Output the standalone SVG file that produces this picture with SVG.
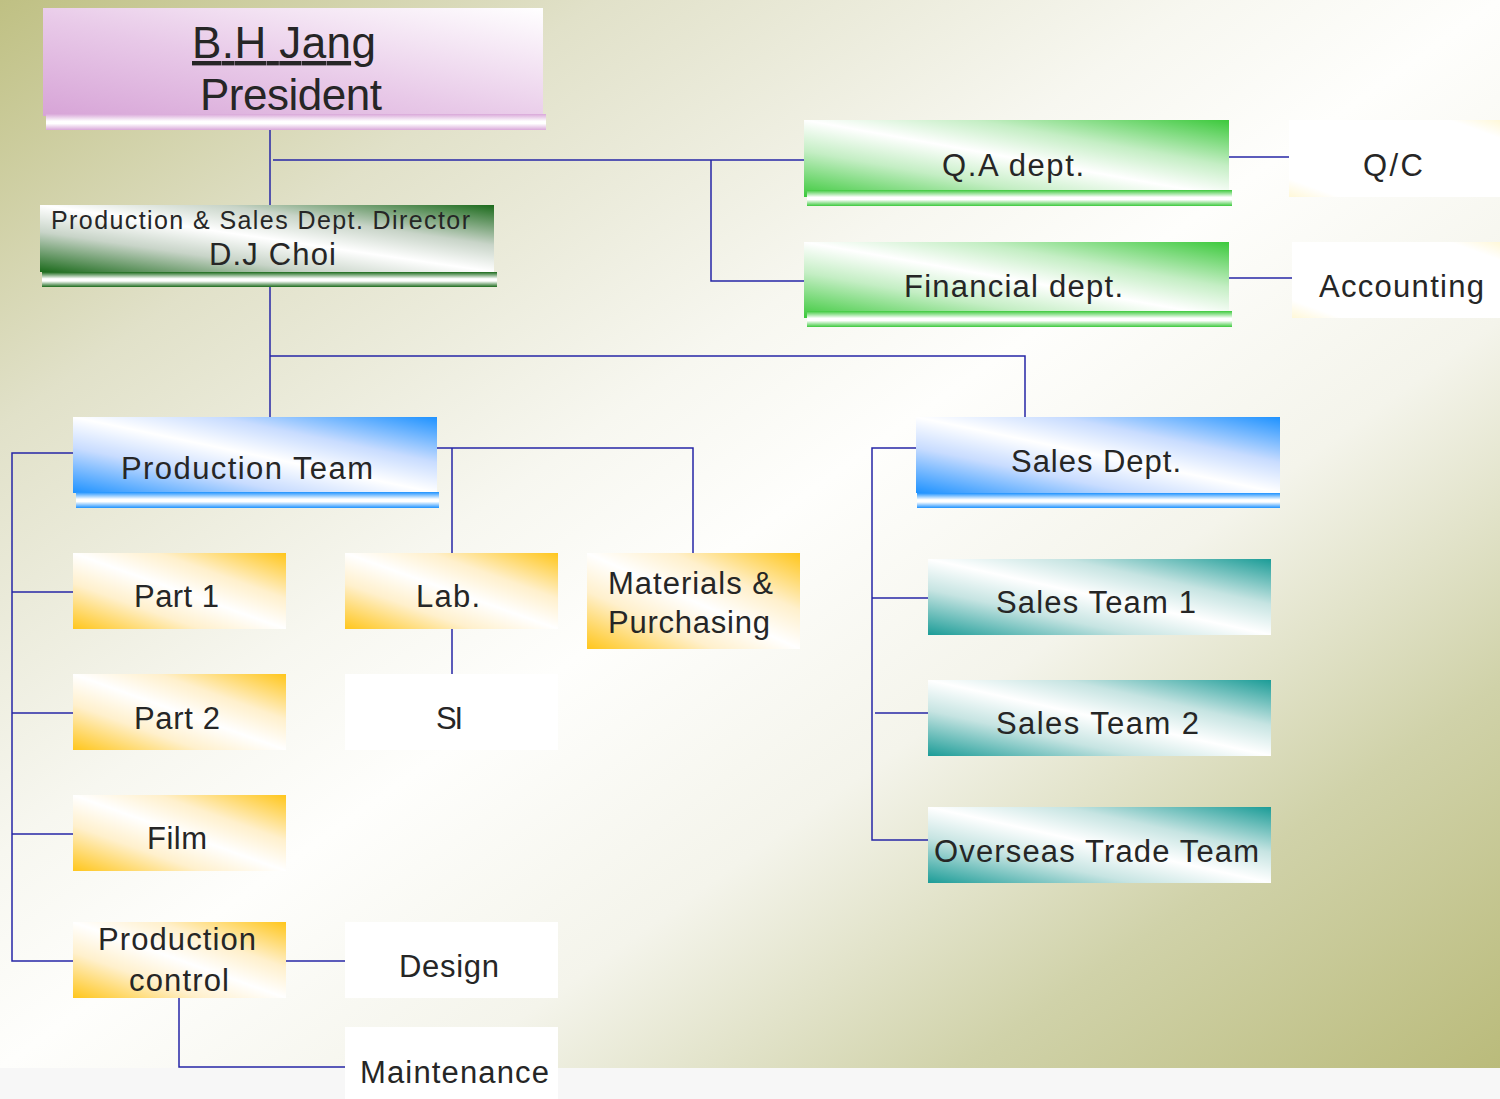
<svg xmlns="http://www.w3.org/2000/svg" width="1500" height="1099" viewBox="0 0 1500 1099">
<defs>
<style>
.t{font-family:"Liberation Sans",Arial,Helvetica,sans-serif;fill:#262626;}
.c{fill:none;stroke:#2626a6;stroke-width:1.5;}
</style>
<linearGradient id="bg" x1="0" y1="0" x2="1" y2="1">
<stop offset="0" stop-color="#bfc083"/>
<stop offset="0.2" stop-color="#e1e1c9"/>
<stop offset="0.4" stop-color="#f7f7f0"/>
<stop offset="0.5" stop-color="#fefefc"/>
<stop offset="0.65" stop-color="#f4f4eb"/>
<stop offset="0.82" stop-color="#d0d2a9"/>
<stop offset="1" stop-color="#babb7b"/>
</linearGradient>
<linearGradient id="gPink" x1="0" y1="1" x2="1" y2="0">
<stop offset="0" stop-color="#d7a4d7"/>
<stop offset="0.45" stop-color="#e8c9e8"/>
<stop offset="1" stop-color="#ffffff"/>
</linearGradient>
<linearGradient id="bPink" x1="0" y1="0" x2="0" y2="1">
<stop offset="0" stop-color="#d9a8d9"/>
<stop offset="0.45" stop-color="#ffffff"/>
<stop offset="0.6" stop-color="#ffffff"/>
<stop offset="1" stop-color="#d9a8d9"/>
</linearGradient>
<linearGradient id="gDark" x1="0" y1="1" x2="1" y2="0">
<stop offset="0" stop-color="#1b6a1b"/>
<stop offset="0.3" stop-color="#c8d4c8"/>
<stop offset="0.5" stop-color="#ffffff"/>
<stop offset="0.7" stop-color="#c8d4c8"/>
<stop offset="1" stop-color="#1b6a1b"/>
</linearGradient>
<linearGradient id="bDark" x1="0" y1="0" x2="0" y2="1">
<stop offset="0" stop-color="#1b6a1b"/>
<stop offset="0.45" stop-color="#ffffff"/>
<stop offset="0.6" stop-color="#ffffff"/>
<stop offset="1" stop-color="#1b6a1b"/>
</linearGradient>
<linearGradient id="gGreen" x1="0" y1="1" x2="1" y2="0">
<stop offset="0" stop-color="#3cc93c"/>
<stop offset="0.3" stop-color="#c4eec4"/>
<stop offset="0.5" stop-color="#ffffff"/>
<stop offset="0.7" stop-color="#c4eec4"/>
<stop offset="1" stop-color="#3cc93c"/>
</linearGradient>
<linearGradient id="bGreen" x1="0" y1="0" x2="0" y2="1">
<stop offset="0" stop-color="#3cc93c"/>
<stop offset="0.45" stop-color="#ffffff"/>
<stop offset="0.6" stop-color="#ffffff"/>
<stop offset="1" stop-color="#3cc93c"/>
</linearGradient>
<linearGradient id="gBlue" x1="0" y1="1" x2="1" y2="0">
<stop offset="0" stop-color="#1e92ff"/>
<stop offset="0.3" stop-color="#c8dcff"/>
<stop offset="0.5" stop-color="#ffffff"/>
<stop offset="0.7" stop-color="#c8dcff"/>
<stop offset="1" stop-color="#1e92ff"/>
</linearGradient>
<linearGradient id="bBlue" x1="0" y1="0" x2="0" y2="1">
<stop offset="0" stop-color="#1e92ff"/>
<stop offset="0.45" stop-color="#ffffff"/>
<stop offset="0.6" stop-color="#ffffff"/>
<stop offset="1" stop-color="#1e92ff"/>
</linearGradient>
<linearGradient id="gYellow" x1="0" y1="1" x2="1" y2="0">
<stop offset="0" stop-color="#ffc61c"/>
<stop offset="0.3" stop-color="#fff0cc"/>
<stop offset="0.5" stop-color="#ffffff"/>
<stop offset="0.7" stop-color="#fff0cc"/>
<stop offset="1" stop-color="#ffc61c"/>
</linearGradient>
<linearGradient id="gTeal" x1="0" y1="1" x2="1" y2="0">
<stop offset="0" stop-color="#1b9c97"/>
<stop offset="0.3" stop-color="#c6e4e2"/>
<stop offset="0.5" stop-color="#ffffff"/>
<stop offset="0.7" stop-color="#c6e4e2"/>
<stop offset="1" stop-color="#1b9c97"/>
</linearGradient>
<linearGradient id="gWhite" x1="0" y1="1" x2="1" y2="0">
<stop offset="0" stop-color="#fff8d8"/>
<stop offset="0.12" stop-color="#ffffff"/>
<stop offset="0.88" stop-color="#ffffff"/>
<stop offset="1" stop-color="#fff8d8"/>
</linearGradient>
</defs>

<rect x="0" y="0" width="1500" height="1099" fill="#f7f7f7"/>
<rect x="0" y="0" width="1500" height="1068" fill="url(#bg)"/>

<g id="connectors">
<path class="c" d="M270 130 V205"/>
<path class="c" d="M273 160 H804"/>
<path class="c" d="M711 160 V281 H804"/>
<path class="c" d="M1229 157 H1289"/>
<path class="c" d="M1229 278 H1292"/>
<path class="c" d="M270 287 V417"/>
<path class="c" d="M270 356 H1025 V417"/>
<path class="c" d="M73 453 H12 V961 H73"/>
<path class="c" d="M12 592 H73"/>
<path class="c" d="M12 713 H73"/>
<path class="c" d="M12 834 H73"/>
<path class="c" d="M437 448 H693 V553"/>
<path class="c" d="M452 448 V553"/>
<path class="c" d="M452 629 V674"/>
<path class="c" d="M286 961 H345"/>
<path class="c" d="M179 998 V1067 H345"/>
<path class="c" d="M916 448 H872 V840 H928"/>
<path class="c" d="M872 598 H928"/>
<path class="c" d="M875 713 H928"/>
</g>

<g id="president">
<rect x="43" y="8" width="500" height="108" fill="url(#gPink)"/>
<rect x="46" y="114" width="500" height="16" fill="url(#bPink)"/>
<text class="t" x="192" y="58" font-size="44" text-decoration="underline" textLength="184" lengthAdjust="spacing">B.H Jang</text>
<text class="t" x="200" y="110" font-size="44" textLength="182" lengthAdjust="spacing">President</text>
</g>

<g id="director">
<rect x="40" y="205" width="454" height="67" fill="url(#gDark)"/>
<rect x="42" y="272" width="455" height="15" fill="url(#bDark)"/>
<text class="t" x="51" y="229" font-size="25" textLength="419" lengthAdjust="spacing">Production &amp; Sales Dept. Director</text>
<text class="t" x="209" y="265" font-size="31" textLength="127" lengthAdjust="spacing">D.J Choi</text>
</g>

<g id="qa">
<rect x="804" y="120" width="425" height="77" fill="url(#gGreen)"/>
<rect x="807" y="190" width="425" height="16" fill="url(#bGreen)"/>
<text class="t" x="942" y="176" font-size="31" textLength="142" lengthAdjust="spacing">Q.A dept.</text>
</g>

<g id="financial">
<rect x="804" y="242" width="425" height="76" fill="url(#gGreen)"/>
<rect x="807" y="311" width="425" height="16" fill="url(#bGreen)"/>
<text class="t" x="904" y="297" font-size="31" textLength="219" lengthAdjust="spacing">Financial dept.</text>
</g>

<g id="qc">
<rect x="1289" y="120" width="211" height="77" fill="url(#gWhite)"/>
<text class="t" x="1363" y="176" font-size="31" textLength="60" lengthAdjust="spacing">Q/C</text>
</g>

<g id="accounting">
<rect x="1292" y="242" width="208" height="76" fill="url(#gWhite)"/>
<text class="t" x="1319" y="297" font-size="31" textLength="165" lengthAdjust="spacing">Accounting</text>
</g>

<g id="production-team">
<rect x="73" y="417" width="364" height="76" fill="url(#gBlue)"/>
<rect x="76" y="492" width="363" height="16" fill="url(#bBlue)"/>
<text class="t" x="121" y="479" font-size="31" textLength="252" lengthAdjust="spacing">Production Team</text>
</g>

<g id="sales-dept">
<rect x="916" y="417" width="364" height="76" fill="url(#gBlue)"/>
<rect x="917" y="493" width="363" height="15" fill="url(#bBlue)"/>
<text class="t" x="1011" y="472" font-size="31" textLength="170" lengthAdjust="spacing">Sales Dept.</text>
</g>

<g id="part1">
<rect x="73" y="553" width="213" height="76" fill="url(#gYellow)"/>
<text class="t" x="134" y="607" font-size="31" textLength="85" lengthAdjust="spacing">Part 1</text>
</g>

<g id="lab">
<rect x="345" y="553" width="213" height="76" fill="url(#gYellow)"/>
<text class="t" x="416" y="607" font-size="31" textLength="64" lengthAdjust="spacing">Lab.</text>
</g>

<g id="materials">
<rect x="587" y="553" width="213" height="96" fill="url(#gYellow)"/>
<text class="t" x="608" y="594" font-size="31" textLength="165" lengthAdjust="spacing">Materials &amp;</text>
<text class="t" x="608" y="633" font-size="31" textLength="162" lengthAdjust="spacing">Purchasing</text>
</g>

<g id="part2">
<rect x="73" y="674" width="213" height="76" fill="url(#gYellow)"/>
<text class="t" x="134" y="729" font-size="31" textLength="86" lengthAdjust="spacing">Part 2</text>
</g>

<g id="si">
<rect x="345" y="674" width="213" height="76" fill="#ffffff"/>
<text class="t" x="436" y="729" font-size="31" textLength="27" lengthAdjust="spacing">SI</text>
</g>

<g id="film">
<rect x="73" y="795" width="213" height="76" fill="url(#gYellow)"/>
<text class="t" x="147" y="849" font-size="31" textLength="60" lengthAdjust="spacing">Film</text>
</g>

<g id="production-control">
<rect x="73" y="922" width="213" height="76" fill="url(#gYellow)"/>
<text class="t" x="98" y="950" font-size="31" textLength="158" lengthAdjust="spacing">Production</text>
<text class="t" x="129" y="991" font-size="31" textLength="100" lengthAdjust="spacing">control</text>
</g>

<g id="design">
<rect x="345" y="922" width="213" height="76" fill="#ffffff"/>
<text class="t" x="399" y="977" font-size="31" textLength="100" lengthAdjust="spacing">Design</text>
</g>

<g id="maintenance">
<rect x="345" y="1027" width="213" height="72" fill="#ffffff"/>
<text class="t" x="360" y="1083" font-size="31" textLength="189" lengthAdjust="spacing">Maintenance</text>
</g>

<g id="sales-team-1">
<rect x="928" y="559" width="343" height="76" fill="url(#gTeal)"/>
<text class="t" x="996" y="613" font-size="31" textLength="200" lengthAdjust="spacing">Sales Team 1</text>
</g>

<g id="sales-team-2">
<rect x="928" y="680" width="343" height="76" fill="url(#gTeal)"/>
<text class="t" x="996" y="734" font-size="31" textLength="203" lengthAdjust="spacing">Sales Team 2</text>
</g>

<g id="overseas">
<rect x="928" y="807" width="343" height="76" fill="url(#gTeal)"/>
<text class="t" x="934" y="862" font-size="31" textLength="325" lengthAdjust="spacing">Overseas Trade Team</text>
</g>
</svg>
